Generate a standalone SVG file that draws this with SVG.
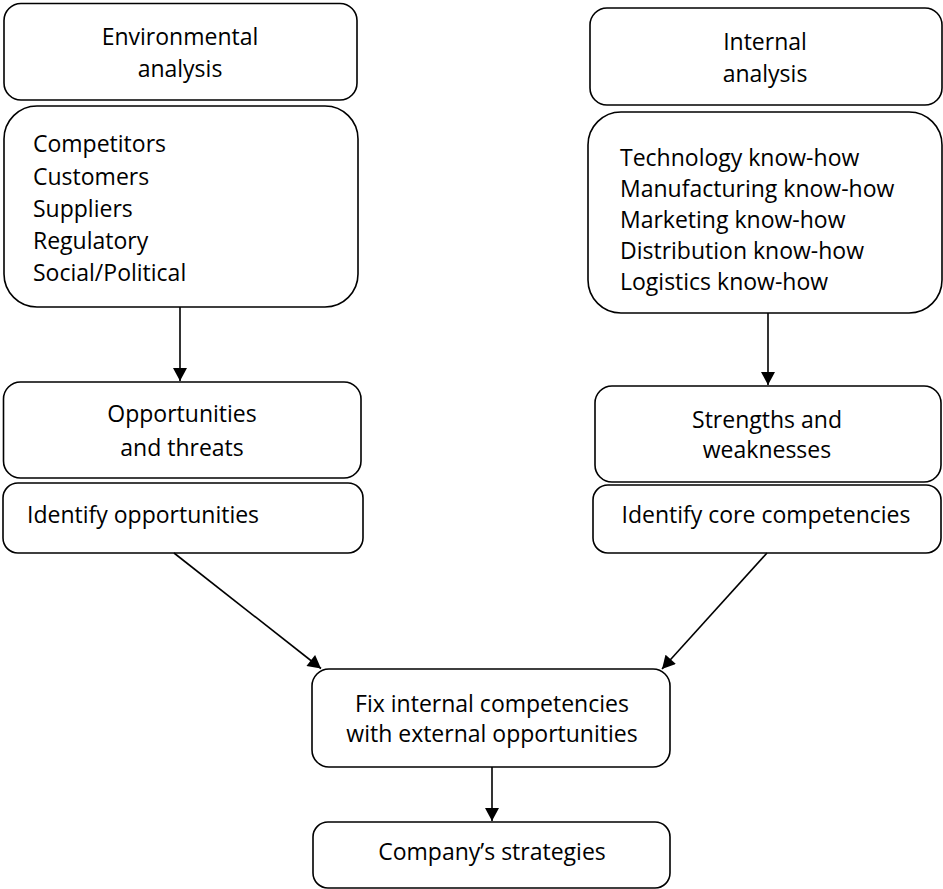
<svg xmlns="http://www.w3.org/2000/svg" width="943" height="889" viewBox="0 0 943 889">
  <style>
    .box { fill: #fff; stroke: #000; stroke-width: 1.6; }
    .t { font-family: "Open Sans", "Liberation Sans", sans-serif; font-size: 23px; fill: #000; }
    .c { text-anchor: middle; }
    .edge { stroke: #000; stroke-width: 1.6; fill: none; marker-end: url(#arrow); }
  </style>
  <defs>
    <marker id="arrow" markerUnits="userSpaceOnUse" markerWidth="14" markerHeight="14" viewBox="0 0 13 14" refX="13" refY="7" orient="auto">
      <path d="M0,0 L13,7 L0,14 Z" fill="#000"/>
    </marker>
  </defs>
  <rect width="943" height="889" fill="#fff"/>

  <g id="env-analysis">
    <rect class="box" x="4" y="3.5" width="353" height="96.5" rx="17"/>
    <text class="t c" x="180" y="45">Environmental</text>
    <text class="t c" x="180" y="77">analysis</text>
  </g>
  <g id="env-factors">
    <rect class="box" x="4" y="106" width="354" height="201" rx="33"/>
    <text class="t" x="33" y="152">Competitors</text>
    <text class="t" x="33" y="184.5">Customers</text>
    <text class="t" x="33" y="216.5">Suppliers</text>
    <text class="t" x="33" y="248.5">Regulatory</text>
    <text class="t" x="33" y="281">Social/Political</text>
  </g>

  <g id="int-analysis">
    <rect class="box" x="590" y="8" width="352" height="97" rx="17"/>
    <text class="t c" x="765" y="50">Internal</text>
    <text class="t c" x="765" y="81.5">analysis</text>
  </g>
  <g id="int-factors">
    <rect class="box" x="588" y="112" width="354" height="201" rx="33"/>
    <text class="t" x="620" y="166">Technology know-how</text>
    <text class="t" x="620" y="197">Manufacturing know-how</text>
    <text class="t" x="620" y="228">Marketing know-how</text>
    <text class="t" x="620" y="259">Distribution know-how</text>
    <text class="t" x="620" y="290">Logistics know-how</text>
  </g>

  <g id="opp-threats">
    <rect class="box" x="3.5" y="382" width="357.5" height="96" rx="17"/>
    <text class="t c" x="182" y="422">Opportunities</text>
    <text class="t c" x="182" y="456">and threats</text>
  </g>
  <g id="identify-opp">
    <rect class="box" x="3" y="483" width="360" height="70" rx="15"/>
    <text class="t" x="27" y="523">Identify opportunities</text>
  </g>

  <g id="str-weak">
    <rect class="box" x="595" y="386" width="346" height="96" rx="17"/>
    <text class="t c" x="767" y="428">Strengths and</text>
    <text class="t c" x="767" y="458">weaknesses</text>
  </g>
  <g id="identify-core">
    <rect class="box" x="593" y="485" width="348" height="68" rx="15"/>
    <text class="t c" x="766" y="523">Identify core competencies</text>
  </g>

  <g id="fit">
    <rect class="box" x="312" y="669" width="358" height="98" rx="17"/>
    <text class="t c" x="492" y="712">Fix internal competencies</text>
    <text class="t c" x="492" y="742">with external opportunities</text>
  </g>
  <g id="strategies">
    <rect class="box" x="313" y="822" width="357" height="66" rx="15"/>
    <text class="t c" x="492" y="860">Company’s strategies</text>
  </g>

  <g id="connectors">
    <line class="edge" x1="180" y1="307" x2="180" y2="381"/>
    <line class="edge" x1="768" y1="313" x2="768" y2="385"/>
    <line class="edge" x1="174" y1="553" x2="321" y2="668.5"/>
    <line class="edge" x1="767" y1="553" x2="662" y2="669"/>
    <line class="edge" x1="492" y1="767" x2="492" y2="821"/>
  </g>
</svg>
